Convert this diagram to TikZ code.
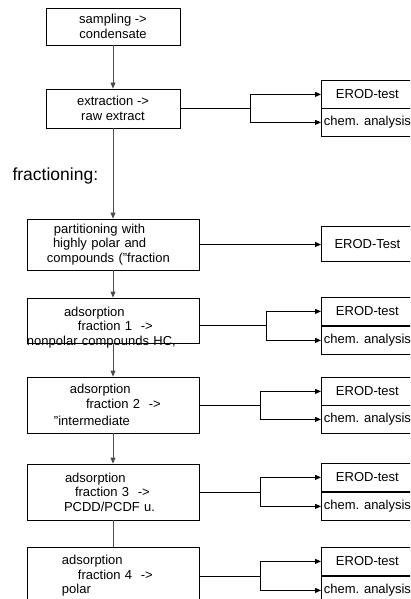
\documentclass[tikz,border=0pt]{standalone}
\usepackage{fontspec}
\setmainfont{Liberation Sans}
\usetikzlibrary{arrows.meta}
\tikzstyle{box}  = [draw, line width=0.8pt, inner sep=0pt, font=\fontsize{13}{14.5}\selectfont]
\tikzstyle{sbox} = [box, minimum width=134pt, align=center]
\tikzstyle{lbox} = [box, text width=172pt, align=left]
\tikzstyle{cell} = [box, minimum width=92pt, minimum height=28pt, anchor=north west]
\tikzstyle{arr}  = [-{Triangle[length=6pt,width=5pt]}]
\tikzstyle{hlink} = [line width=0.8pt, black]
\tikzstyle{vlink} = [line width=0.8pt, black!70]

\begin{document}
\begin{tikzpicture}[x=1pt,y=-1pt]
      \useasboundingbox   (0,0) rectangle (410,599);
      \clip               (0,0) rectangle (410,599);
      % main column
      \node[sbox, minimum height=37pt] (samp) at (113,26.5) {sampling ->\\condensate};
      \node[sbox, minimum height=39pt] (extr) at (113,108.5) {extraction ->\\raw extract};
      \node[font=\fontsize{17.5}{20}\selectfont, anchor=west] (frac) at (9,176) {fractioning:};
      \node[lbox, minimum height=51pt] (part) at (113,244.5)
           {\hspace*{27pt}partitioning with\\\hspace*{26pt}highly polar and\\\hspace*{20pt}compounds ("fraction};
      % text sits low in this box
      \node[lbox, minimum height=45pt] (ads1) at (113,320.5)
           {\raisebox{-10.5pt}[0pt][0pt]{\begin{tabular}[c]{@{}l@{}}\hspace*{37pt}adsorption\\
            \hspace*{51pt}fraction 1~~->\\nonpolar compounds HC,\end{tabular}}};
      \node[lbox, minimum height=56pt] (ads2) at (113,405)
           {\hspace*{43pt}adsorption\\\hspace*{59pt}fraction 2~~->\\[3pt]\hspace*{27pt}"intermediate};
      \node[lbox, minimum height=56pt] (ads3) at (113,492)
           {\hspace*{38pt}adsorption\\\hspace*{48pt}fraction 3~~->\\\hspace*{37pt}PCDD/PCDF u.};
      \node[lbox, minimum height=58pt] (ads4) at (113,576)
           {\hspace*{35pt}adsorption\\\hspace*{51pt}fraction 4~~->\\\hspace*{35pt}polar};
      % test column
      \node[cell] (erod0) at (321,80)  {EROD-test};
      \node[cell] (chem0) at (321,108) {chem. analysis};
      \node[cell, minimum height=35pt] (erodT) at (321,226) {EROD-Test};
      \node[cell] (erod1) at (321,297) {EROD-test};
      \node[cell] (chem1) at (321,326) {chem. analysis};
      \node[cell] (erod2) at (321,377) {EROD-test};
      \node[cell] (chem2) at (321,405) {chem. analysis};
      \node[cell] (erod3) at (321,463) {EROD-test};
      \node[cell] (chem3) at (321,492) {chem. analysis};
      \node[cell] (erod4) at (321,547) {EROD-test};
      \node[cell] (chem4) at (321,576) {chem. analysis};
      % branch points
      \coordinate (br0) at (250,108);
      \coordinate (br1) at (266,325);
      \coordinate (br2) at (260,405);
      \coordinate (br3) at (260,492);
      \coordinate (br4) at (260,576);
      % vertical connectors
      \draw[vlink,arr] (samp.south) -- (extr.north);
      \draw[vlink,arr] (extr.south) -- (part.north);
      \draw[vlink,arr] (part.south) -- (ads1.north);
      \draw[vlink,arr] (ads1.south) -- (ads2.north);
      \draw[vlink,arr] (ads2.south) -- (ads3.north);
      \draw[vlink]     (ads3.south) -- (ads4.north);
      % horizontal connectors
      \draw[hlink,arr] (part.east) -- (part.east -| erodT.west);
      \foreach \i/\a in {0/extr,1/ads1,2/ads2,3/ads3,4/ads4} {
        \draw[hlink]     (br\i -| \a.east) -- (br\i);
        \draw[hlink,arr] (br\i) |- (erod\i.west);
        \draw[hlink,arr] (br\i) |- (chem\i.west);
      }
\end{tikzpicture}
\end{document}
